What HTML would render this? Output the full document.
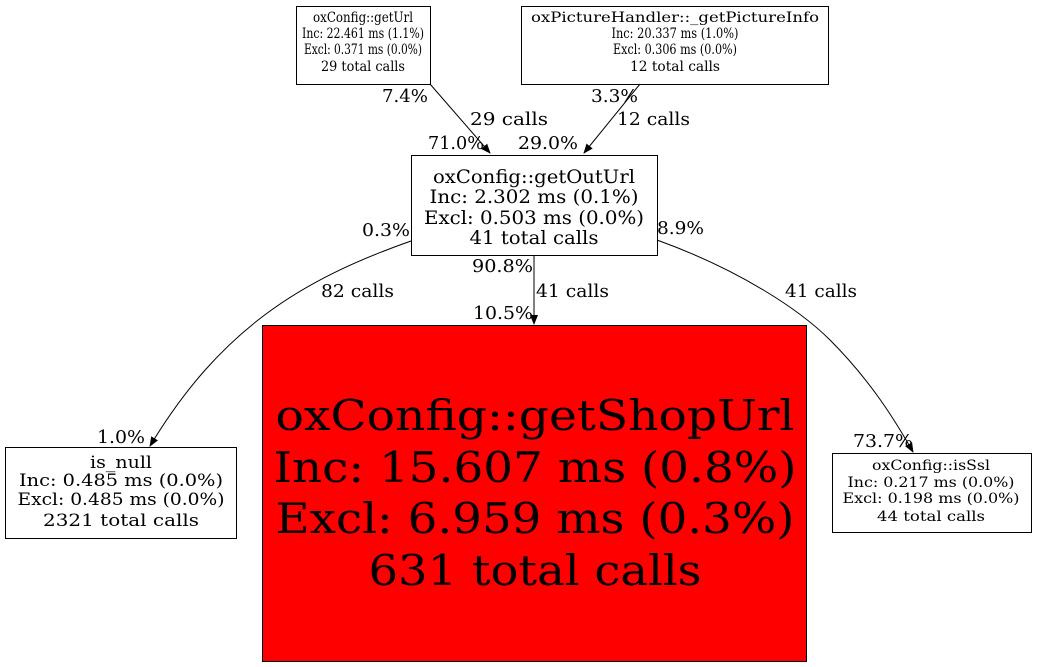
<!DOCTYPE html>
<html><head><meta charset="utf-8"><style>body{margin:0;background:#fff}svg{display:block}text{font-family:"DejaVu Serif","Liberation Serif",serif}</style></head><body>
<svg width="1037" height="667" viewBox="0 0 1037 667" xmlns="http://www.w3.org/2000/svg">
<defs><marker id="a" markerWidth="10" markerHeight="8" refX="9" refY="4" orient="auto" markerUnits="userSpaceOnUse"><path d="M0,0 L10,4 L0,8 z" fill="#000"/></marker></defs>
<g fill="none" stroke="#000" stroke-width="1">
<rect x="296.5" y="6.5" width="134" height="78"/>
<rect x="521.5" y="6.5" width="307" height="78"/>
<rect x="411.5" y="155.5" width="246" height="100"/>
<rect x="262.5" y="325.5" width="544" height="336" fill="#ff0000"/>
<rect x="5.5" y="447.5" width="231" height="91"/>
<rect x="832.5" y="453.5" width="199" height="79"/>
<path d="M430,84 L490,153" marker-end="url(#a)"/>
<path d="M640,84 L584,153" marker-end="url(#a)"/>
<path d="M534,255 L534,324" marker-end="url(#a)"/>
<path d="M411,241 C300,280 220,330 150,446" marker-end="url(#a)"/>
<path d="M657,240 C740,270 800,310 830,340 C870,380 895,420 913,452" marker-end="url(#a)"/>
</g>
<g text-anchor="middle" font-size="14">
<text x="363" y="22" textLength="100" lengthAdjust="spacingAndGlyphs">oxConfig::getUrl</text><text x="363" y="38" textLength="122" lengthAdjust="spacingAndGlyphs">Inc: 22.461 ms (1.1%)</text><text x="363" y="54" textLength="118" lengthAdjust="spacingAndGlyphs">Excl: 0.371 ms (0.0%)</text><text x="363" y="71" textLength="84" lengthAdjust="spacingAndGlyphs">29 total calls</text>
<text x="675" y="22" textLength="288" lengthAdjust="spacingAndGlyphs">oxPictureHandler::_getPictureInfo</text><text x="675" y="38" textLength="127" lengthAdjust="spacingAndGlyphs">Inc: 20.337 ms (1.0%)</text><text x="675" y="54" textLength="124" lengthAdjust="spacingAndGlyphs">Excl: 0.306 ms (0.0%)</text><text x="675" y="71" textLength="90" lengthAdjust="spacingAndGlyphs">12 total calls</text>
</g>
<g text-anchor="middle" font-size="18.5">
<text x="534" y="183" textLength="202" lengthAdjust="spacingAndGlyphs">oxConfig::getOutUrl</text><text x="534" y="203" textLength="209" lengthAdjust="spacingAndGlyphs">Inc: 2.302 ms (0.1%)</text><text x="534" y="224" textLength="220" lengthAdjust="spacingAndGlyphs">Excl: 0.503 ms (0.0%)</text><text x="534" y="244" textLength="129" lengthAdjust="spacingAndGlyphs">41 total calls</text>
</g>
<g text-anchor="middle" font-size="42">
<text x="535" y="430" textLength="519" lengthAdjust="spacingAndGlyphs">oxConfig::getShopUrl</text><text x="535" y="482" textLength="523" lengthAdjust="spacingAndGlyphs">Inc: 15.607 ms (0.8%)</text><text x="535" y="533" textLength="519" lengthAdjust="spacingAndGlyphs">Excl: 6.959 ms (0.3%)</text><text x="535" y="585" textLength="333" lengthAdjust="spacingAndGlyphs">631 total calls</text>
</g>
<g text-anchor="middle" font-size="16.5">
<text x="121" y="468" textLength="62" lengthAdjust="spacingAndGlyphs">is_null</text><text x="121" y="486" textLength="204" lengthAdjust="spacingAndGlyphs">Inc: 0.485 ms (0.0%)</text><text x="121" y="505" textLength="207" lengthAdjust="spacingAndGlyphs">Excl: 0.485 ms (0.0%)</text><text x="121" y="526" textLength="156" lengthAdjust="spacingAndGlyphs">2321 total calls</text>
</g>
<g text-anchor="middle" font-size="14">
<text x="931" y="470" textLength="118" lengthAdjust="spacingAndGlyphs">oxConfig::isSsl</text><text x="931" y="487" textLength="167" lengthAdjust="spacingAndGlyphs">Inc: 0.217 ms (0.0%)</text><text x="931" y="503" textLength="177" lengthAdjust="spacingAndGlyphs">Excl: 0.198 ms (0.0%)</text><text x="931" y="521" textLength="108" lengthAdjust="spacingAndGlyphs">44 total calls</text>
</g>
<g font-size="18">
<text x="382" y="102" textLength="46" lengthAdjust="spacingAndGlyphs">7.4%</text><text x="470" y="125" textLength="78" lengthAdjust="spacingAndGlyphs">29 calls</text><text x="428" y="149" textLength="56" lengthAdjust="spacingAndGlyphs">71.0%</text><text x="518" y="149" textLength="60" lengthAdjust="spacingAndGlyphs">29.0%</text>
<text x="591" y="102" textLength="47" lengthAdjust="spacingAndGlyphs">3.3%</text><text x="617" y="125" textLength="73" lengthAdjust="spacingAndGlyphs">12 calls</text>
<text x="362" y="236" textLength="48" lengthAdjust="spacingAndGlyphs">0.3%</text><text x="657" y="234" textLength="47" lengthAdjust="spacingAndGlyphs">8.9%</text>
<text x="321" y="297" textLength="73" lengthAdjust="spacingAndGlyphs">82 calls</text><text x="472" y="272" textLength="61" lengthAdjust="spacingAndGlyphs">90.8%</text><text x="536" y="297" textLength="73" lengthAdjust="spacingAndGlyphs">41 calls</text><text x="473" y="319" textLength="60" lengthAdjust="spacingAndGlyphs">10.5%</text>
<text x="785" y="297" textLength="72" lengthAdjust="spacingAndGlyphs">41 calls</text><text x="97" y="443" textLength="48" lengthAdjust="spacingAndGlyphs">1.0%</text><text x="853" y="447" textLength="60" lengthAdjust="spacingAndGlyphs">73.7%</text>
</g>
</svg>
</body></html>
